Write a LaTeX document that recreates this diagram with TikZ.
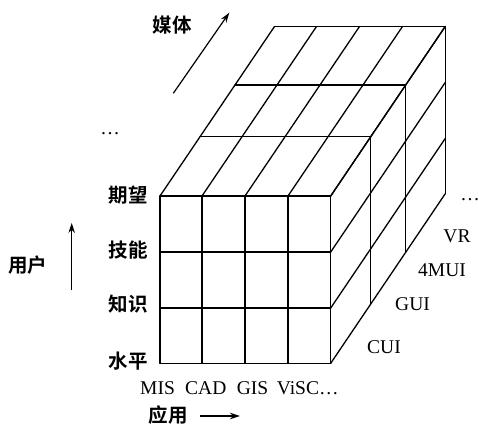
\documentclass[tikz,border=0pt]{standalone}
\usepackage{fontspec}
\setmainfont{Liberation Serif}
\newfontfamily\cjk{Noto Sans CJK SC}[BoldFont={* Bold}]
\usetikzlibrary{arrows.meta}
\begin{document}
\begin{tikzpicture}[x=1pt,y=-1pt,
  grid/.style={line width=1.3pt, line join=round, line cap=round},
  axis/.style={line width=1.2pt,-{Stealth[length=10pt,width=6.5pt]}},
  lat/.style={font=\fontsize{19.5}{20}\selectfont, inner sep=0pt},
  zh/.style={font=\cjk\bfseries\fontsize{19.5}{20}\selectfont, inner sep=0pt}]
\useasboundingbox (0,0) rectangle (479,427);
% front face
\foreach \x in {160,202,245,288,330.7} \draw[grid] (\x,196) -- (\x,363.3);
\foreach \y in {196,252,308,363.3} \draw[grid] (160,\y) -- (330.7,\y);
% top face
\foreach \x in {160,202,245,288,330.7} \draw[grid] (\x,196) -- ++(114.5,-169.5);
\foreach \f in {0.35,0.655,1} \draw[grid] ({160+\f*114.5},{196-\f*169.5}) -- ++(170.7,0);
% right face
\foreach \y in {196,252,308,363.3} \draw[grid] (330.7,\y) -- ++(114.5,-169.5);
\foreach \f in {0.35,0.655,1} \draw[grid] ({330.7+\f*114.5},{196-\f*169.5}) -- ++(0,167.3);
% axes
\coordinate (m1) at (173.3,93.3); \coordinate (m2) at (229.3,12.7);
\draw[axis] (m1) -- (m2);
\coordinate (u1) at (71.7,290); \coordinate (u2) at (71.7,223);
\draw[axis] (u1) -- (u2);
\coordinate (a1) at (200,416); \coordinate (a2) at (240,416);
\draw[axis] (a1) -- (a2);
% labels
\node[zh] (meiti) at (172,25.5) {媒体};
\node[lat] (dots1) at (110,134) {…};
\node[zh] (qiwang) at (128,195) {期望};
\node[zh] (jineng) at (128,250) {技能};
\node[zh] (zhishi) at (128,304) {知识};
\node[zh] (shuiping) at (128,361) {水平};
\node[zh] (yonghu) at (28,265) {用户};
\node[zh] (yingyong) at (168,415) {应用};
\node[lat,anchor=west] (mis) at (140,388) {MIS};
\node[lat,anchor=west] (cad) at (185,388) {CAD};
\node[lat,anchor=west] (gis) at (236.7,388) {GIS};
\node[lat,anchor=west] (visc) at (276.7,388) {ViSC…};
\node[lat] (cui) at (384,347) {CUI};
\node[lat] (gui) at (412.5,304) {GUI};
\node[lat] (mui) at (442,270) {4MUI};
\node[lat] (vr) at (457,236) {VR};
\node[lat] (dots2) at (470,200) {…};
\end{tikzpicture}
\end{document}
